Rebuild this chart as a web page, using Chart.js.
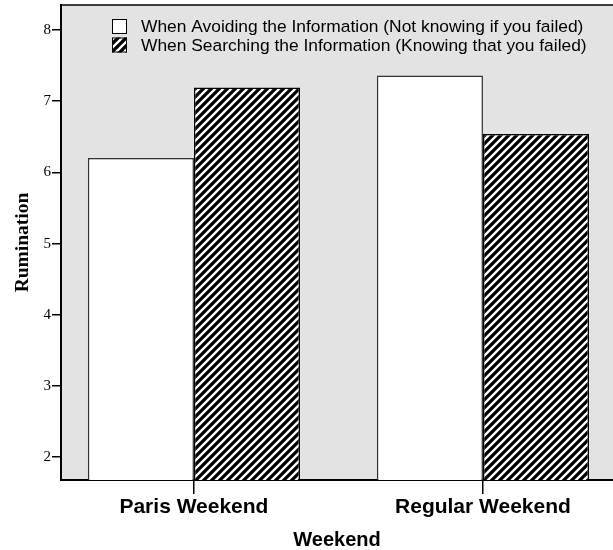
<!DOCTYPE html>
<html>
<head>
<meta charset="utf-8">
<script src="https://cdn.jsdelivr.net/npm/chart.js@4.4.0/dist/chart.umd.min.js"></script>
<style>
  html, body { margin: 0; padding: 0; background: #fff; overflow: hidden; }
</style>
</head>
<body>
<canvas id="grafico" width="613" height="550"></canvas>
<script>
// Dados do gráfico
const categories = ['Paris Weekend', 'Regular Weekend'];
const avoiding = [6.2, 7.36];
const searching = [7.19, 6.54];
const seriesLabels = [
    'When Avoiding the Information (Not knowing if you failed)',
    'When Searching the Information (Knowing that you failed)'
];
const yTicks = [2, 3, 4, 5, 6, 7, 8];

const ctx = document.getElementById('grafico').getContext('2d');

// Padrão hachurado (listras brancas em diagonal sobre preto)
function hatchPattern() {
    const tile = document.createElement('canvas');
    tile.width = 8;
    tile.height = 8;
    const g = tile.getContext('2d');
    g.fillStyle = '#000';
    g.fillRect(0, 0, 8, 8);
    g.strokeStyle = '#fff';
    g.lineWidth = 2.3;
    g.beginPath();
    g.moveTo(-2, 10); g.lineTo(10, -2);
    g.moveTo(-2, 2); g.lineTo(2, -2);
    g.moveTo(6, 10); g.lineTo(10, 6);
    g.stroke();
    return ctx.createPattern(tile, 'repeat');
}
const hatch = hatchPattern();

// Fundo cinza da área do gráfico + borda superior
const plotBackground = {
    id: 'plotBackground',
    beforeDraw(chart) {
        const { ctx, chartArea: a } = chart;
        ctx.save();
        ctx.fillStyle = '#e3e3e3';
        ctx.fillRect(a.left, a.top, a.right - a.left, a.bottom - a.top);
        ctx.strokeStyle = '#000';
        ctx.lineWidth = 1.5;
        ctx.beginPath();
        ctx.moveTo(a.left, a.top);
        ctx.lineTo(a.right, a.top);
        ctx.stroke();
        ctx.restore();
    }
};

// Legenda desenhada dentro da área do gráfico
const innerLegend = {
    id: 'innerLegend',
    afterDraw(chart) {
        const { ctx } = chart;
        ctx.save();
        ctx.font = '17.4px "Liberation Sans", Arial, sans-serif';
        ctx.textBaseline = 'middle';
        chart.data.datasets.forEach((ds, i) => {
            const y = 19 + i * 18.5;
            ctx.fillStyle = ds.backgroundColor;
            ctx.fillRect(112, y, 15, 15);
            ctx.strokeStyle = '#000';
            ctx.lineWidth = 1;
            ctx.strokeRect(112.5, y + 0.5, 14, 14);
            ctx.fillStyle = '#000';
            ctx.fillText(ds.label, 141, y + 8.5);
        });
        ctx.restore();
    }
};

new Chart(ctx, {
    type: 'bar',
    data: {
        datasets: [
            {
                label: seriesLabels[0],
                data: avoiding.map((v, i) => ({ x: i, y: v })),
                backgroundColor: '#fff',
                borderColor: '#333',
                borderWidth: 1.5
            },
            {
                label: seriesLabels[1],
                data: searching.map((v, i) => ({ x: i, y: v })),
                backgroundColor: hatch,
                borderColor: '#000',
                borderWidth: 1.5
            }
        ]
    },
    options: {
        responsive: false,
        animation: false,
        devicePixelRatio: 1,
        categoryPercentage: 0.734,
        barPercentage: 1,
        layout: { padding: { top: 5, right: 0, left: 0, bottom: 0 } },
        plugins: {
            legend: { display: false },
            tooltip: { enabled: false }
        },
        scales: {
            x: {
                type: 'linear',
                min: -0.46,
                max: 1.45,
                offset: false,
                afterBuildTicks: scale => {
                    scale.ticks = categories.map((c, i) => ({ value: i }));
                },
                afterFit: scale => { scale.height = 70; },
                ticks: {
                    callback: v => categories[v] || '',
                    color: '#000',
                    font: { family: '"Liberation Sans", Arial, sans-serif', size: 21, weight: 'bold' },
                    padding: 1,
                    maxRotation: 0,
                    autoSkip: false
                },
                grid: { drawOnChartArea: false, offset: false, tickLength: 14, color: '#000', lineWidth: 1.5 },
                border: { display: true, color: '#000', width: 2 },
                title: {
                    display: true,
                    text: 'Weekend',
                    color: '#000',
                    font: { family: '"Liberation Sans", Arial, sans-serif', size: 20, weight: 'bold', lineHeight: 1 },
                    padding: { top: 0, bottom: 0 }
                }
            },
            y: {
                min: 1.68,
                max: 8.35,
                afterBuildTicks: scale => {
                    scale.ticks = yTicks.map(v => ({ value: v }));
                },
                afterFit: scale => {
                    scale.width = 61;
                    scale.paddingTop = 0;
                    scale.paddingBottom = 0;
                },
                ticks: {
                    color: '#000',
                    font: { family: '"Liberation Serif", "Times New Roman", serif', size: 15 },
                    padding: 1
                },
                grid: { drawOnChartArea: false, tickLength: 9, color: '#000', lineWidth: 1.5 },
                border: { display: true, color: '#000', width: 2 },
                title: {
                    display: true,
                    text: 'Rumination',
                    color: '#000',
                    font: { family: '"Liberation Serif", "Times New Roman", serif', size: 19.5, weight: 'bold' },
                    padding: { top: 11, bottom: 0 }
                }
            }
        }
    },
    plugins: [plotBackground, innerLegend]
});
</script>
</body>
</html>
